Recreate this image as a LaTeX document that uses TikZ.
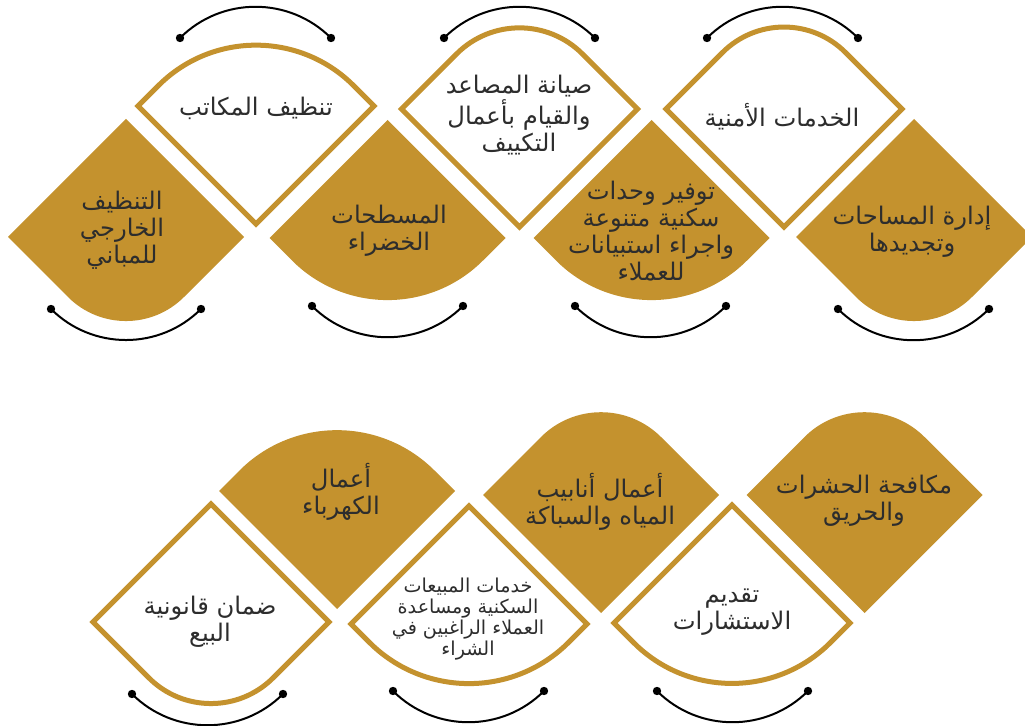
\documentclass[tikz,border=0pt]{standalone}
\usepackage{fontspec}
\TeXXeTstate=1
\newfontfamily\arabicfont[Script=Arabic]{DejaVu Sans}
\definecolor{gold}{RGB}{196,146,46}
\definecolor{ink}{RGB}{45,45,45}
% diamond with rounded top corner: style, cx, cy, half-diagonal, radius
\newcommand\uprnd[5]{%
  \path[#1] ({#2-#4},#3) -- ({#2-0.7071*#5},{#3-#4+0.7071*#5})
    arc[start angle=225,end angle=315,radius=#5] -- ({#2+#4},#3) -- (#2,{#3+#4}) -- cycle;}
% diamond with rounded bottom corner
\newcommand\dnrnd[5]{%
  \path[#1] (#2,{#3-#4}) -- ({#2+#4},#3) -- ({#2+0.7071*#5},{#3+#4-0.7071*#5})
    arc[start angle=45,end angle=135,radius=#5] -- ({#2-#4},#3) -- cycle;}
\begin{document}
\begin{tikzpicture}[x=0.02cm,y=-0.02cm,
  goldfill/.style={fill=gold},
  goldline/.style={draw=gold,fill=white,line width=0.1cm},
  link/.style={draw=black,line width=0.04cm},
  dot/.style={fill=black},
  lbl/.style={font=\arabicfont\fontsize{13.8}{15.4}\selectfont,text=ink,align=center,inner sep=0pt},
  lblsmall/.style={font=\arabicfont\fontsize{10.9}{12}\selectfont,text=ink,align=center,inner sep=0pt}]
\useasboundingbox (0,0) rectangle (1025,726);
\clip (0,0) rectangle (1025,726);
\fill[white] (0,0) rectangle (1025,726);

% top row
\uprnd{goldline}{256}{106}{118}{138}
\uprnd{goldline}{519.5}{109}{118}{89}
\uprnd{goldline}{784}{109}{118}{87}
\dnrnd{goldfill}{126}{237}{118}{82}
\dnrnd{goldfill}{387.5}{238}{118}{135}
\dnrnd{goldfill}{651.5}{238}{118}{135}
\dnrnd{goldfill}{914}{237}{118}{82}
% bottom row
\uprnd{goldfill}{337}{491}{118}{138}
\uprnd{goldfill}{601}{495}{118}{85}
\uprnd{goldfill}{864.5}{495}{118}{85}
\dnrnd{goldline}{211}{622}{118}{88}
\dnrnd{goldline}{469}{624}{118}{141}
\dnrnd{goldline}{732}{623}{118}{139}

% black arcs
\foreach \n/\xa/\xb/\yy/\bd in {a1/180/331/38/left, a2/444/595/38/left, a3/707/858/38/left,
   b1/51/201/309/right, b2/312/463/306/right, b3/575/726/306/right, b4/838/989/309/right,
   c1/132/283/694/right, c2/393/544/691/right, c3/657/808/691/right}{
  \coordinate (\n l) at (\xa,\yy);
  \coordinate (\n r) at (\xb,\yy);
  \draw[link] (\n l) to[bend \bd=45] (\n r);
  \fill[dot] (\n l) circle[radius=4.2];
  \fill[dot] (\n r) circle[radius=4.2];
}

% labels
\node[lbl] (tA1) at (256,108) {\beginR تنظيف المكاتب\endR};
\node[lbl] (tA2) at (519,115) {\beginR صيانة المصاعد\endR\\\beginR والقيام بأعمال\endR\\\beginR التكييف\endR};
\node[lbl] (tA3) at (782,117) {\beginR الخدمات الأمنية\endR};
\node[lbl] (tB1) at (122,230) {\beginR التنظيف\endR\\\beginR الخارجي\endR\\\beginR للمباني\endR};
\node[lbl] (tB2) at (389,231) {\beginR المسطحات\endR\\\beginR الخضراء\endR};
\node[lbl] (tB3) at (651,231) {\beginR توفير وحدات\endR\\\beginR سكنية متنوعة\endR\\\beginR واجراء استبيانات\endR\\\beginR للعملاء\endR};
\node[lbl] (tB4) at (912,232) {\beginR إدارة المساحات\endR\\\beginR وتجديدها\endR};
\node[lbl] (tC1) at (341,492) {\beginR أعمال\endR\\\beginR الكهرباء\endR};
\node[lbl] (tC2) at (600,502) {\beginR أعمال أنابيب\endR\\\beginR المياه والسباكة\endR};
\node[lbl] (tC3) at (864,501) {\beginR مكافحة الحشرات\endR\\\beginR والحريق\endR};
\node[lbl] (tD1) at (210,622) {\beginR ضمان قانونية\endR\\\beginR البيع\endR};
\node[lblsmall] (tD2) at (468,619) {\beginR خدمات المبيعات\endR\\\beginR السكنية ومساعدة\endR\\\beginR العملاء الراغبين في\endR\\\beginR الشراء\endR};
\node[lbl] (tD3) at (732,612) {\beginR تقديم\endR\\\beginR الاستشارات\endR};
\end{tikzpicture}
\end{document}
